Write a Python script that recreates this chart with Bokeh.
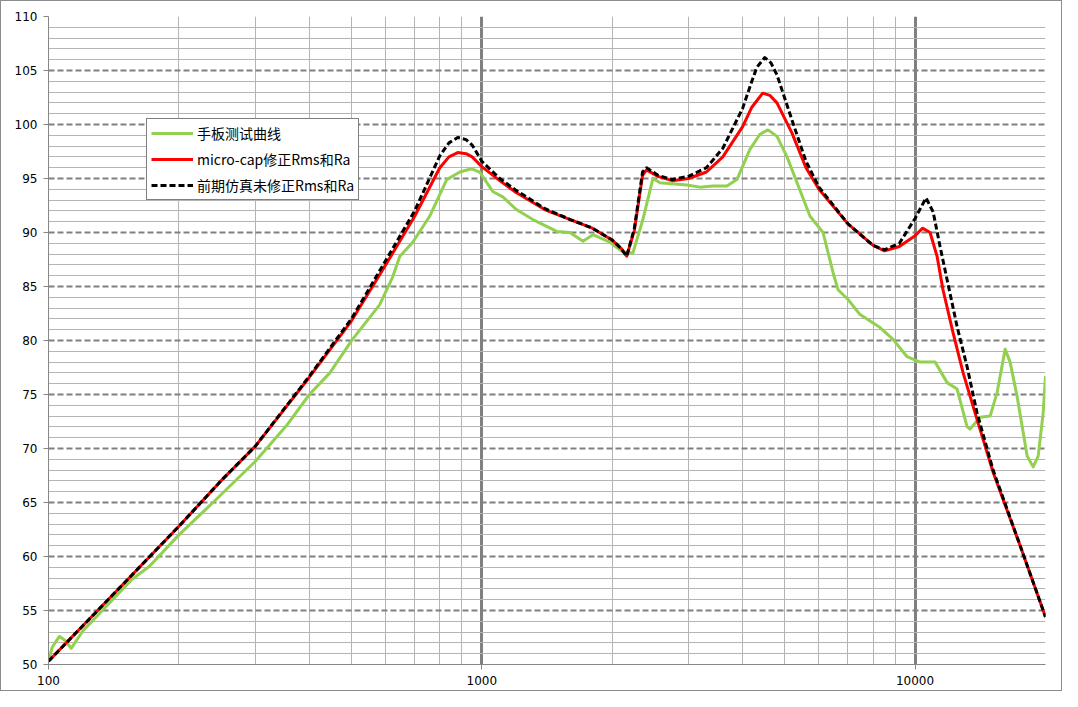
from bokeh.plotting import figure
from bokeh.models import Range1d, FixedTicker, Legend, LegendItem, CustomJSTickFormatter
from bokeh.embed import file_html
from bokeh.resources import INLINE

# ---- data ----
green_f = [100, 102, 106, 109.5, 112.8, 120, 136, 156, 171, 200, 244, 300, 354, 400, 446, 503,
           581, 623, 647, 693, 758, 830, 890, 948, 989, 1060, 1118, 1204, 1312, 1490, 1597,
           1712, 1805, 1975, 2117, 2232, 2354, 2483, 2577, 2974, 3187, 3416, 3679, 3880, 4158,
           4385, 4576, 4802, 5063, 5341, 5723, 6132, 6466, 6641, 7003, 7464, 8303, 8897, 9584,
           10268, 11123, 11857, 12503, 13187, 13397, 14130, 14903, 15468, 16141, 16572, 17202,
           18143, 18730, 19236, 19754, 20000]
green_db = [50.3, 51.6, 52.6, 52.2, 51.5, 53.1, 55.4, 57.9, 59.1, 62.0, 65.3, 68.8, 72.1, 75.0,
            77.0, 80.1, 83.3, 85.9, 87.8, 89.1, 91.5, 94.9, 95.6, 95.9, 95.6, 93.8, 93.3, 92.1,
            91.2, 90.1, 90.0, 89.2, 89.8, 89.1, 88.2, 88.1, 91.2, 95.0, 94.6, 94.4, 94.2, 94.3,
            94.3, 94.9, 97.7, 99.1, 99.5, 98.9, 97.0, 94.6, 91.5, 90.0, 86.3, 84.7, 83.8, 82.4,
            81.2, 80.1, 78.5, 78.0, 78.0, 76.1, 75.5, 72.0, 71.8, 72.9, 73.0, 75.2, 79.2, 78.0,
            74.8, 69.3, 68.3, 69.3, 73.3, 76.7]

red_f = [100, 150, 200, 250, 300, 400, 500, 600, 700, 800, 840, 880, 920, 950, 1000, 1100, 1200,
         1400, 1600, 1800, 2000, 2100, 2160, 2250, 2350, 2400, 2550, 2750, 3000, 3300, 3600,
         4000, 4200, 4450, 4620, 4800, 5200, 5600, 6000, 7000, 8000, 8500, 9200, 10000, 10400,
         10830, 11240, 11600, 12240, 12910, 13900, 15140, 17480, 20000]
red_db = [50.3, 57.6, 62.8, 67.0, 70.2, 76.6, 81.8, 87.0, 91.5, 96.0, 97.0, 97.4, 97.3, 97.0,
          96.1, 94.8, 93.7, 92.1, 91.2, 90.4, 89.3, 88.5, 87.8, 90.2, 95.3, 95.8, 95.2, 94.8,
          95.0, 95.6, 97.0, 99.8, 101.6, 102.9, 102.7, 102.0, 99.2, 96.0, 94.0, 90.8, 88.8,
          88.3, 88.7, 89.7, 90.4, 90.0, 87.8, 84.7, 80.7, 77.0, 72.7, 67.8, 61.0, 54.4]

black_f = [100, 150, 200, 250, 300, 400, 500, 600, 700, 800, 840, 880, 920, 950, 1000, 1100,
           1200, 1400, 1600, 1800, 2000, 2100, 2160, 2250, 2350, 2400, 2550, 2750, 3000, 3300,
           3600, 4000, 4200, 4315, 4500, 4650, 4800, 5200, 5600, 6000, 7000, 8000, 8500, 9200,
           10000, 10600, 11010, 11420, 11860, 12500, 13180, 13900, 15140, 17480, 20000]
black_db = [50.3, 57.6, 62.8, 67.0, 70.2, 76.7, 82.0, 87.4, 92.0, 97.1, 98.3, 98.8, 98.6, 98.1,
            96.6, 95.0, 93.9, 92.2, 91.2, 90.4, 89.3, 88.5, 87.8, 90.4, 95.6, 96.0, 95.3, 94.9,
            95.2, 96.0, 97.8, 101.5, 104.0, 105.3, 106.2, 105.7, 104.6, 100.4, 96.6, 94.2, 90.8,
            88.8, 88.4, 89.0, 91.3, 93.2, 91.9, 88.7, 85.6, 81.3, 77.6, 73.3, 68.0, 61.0, 54.4]

labels = ["手板测试曲线", "micro-cap修正Rms和Ra", "前期仿真未修正Rms和Ra"]
x_ticks = [100, 1000, 10000]
x_minor = [200, 300, 400, 500, 600, 700, 800, 900, 2000, 3000, 4000, 5000, 6000, 7000, 8000,
           9000, 20000]
y_ticks = list(range(50, 111, 5))
y_minor = [v for v in range(50, 111) if v % 5 != 0]

# ---- figure ----
p = figure(width=1062, height=691, x_axis_type="log", output_backend="svg",
           toolbar_location=None, x_range=Range1d(100, 20000), y_range=Range1d(50, 110),
           min_border_left=47, min_border_right=18, min_border_top=15, min_border_bottom=28)
p.styles = {"border": "1px solid #8c8c8c"}
p.outline_line_color = None
p.background_fill_color = "white"
p.border_fill_color = "white"

# axes
p.xaxis.ticker = FixedTicker(ticks=x_ticks, minor_ticks=[])
p.yaxis.ticker = FixedTicker(ticks=y_ticks, minor_ticks=[])
p.xaxis.formatter = CustomJSTickFormatter(code="return tick.toFixed(0);")
for ax in (p.xaxis[0], p.yaxis[0]):
    ax.axis_line_color = "#868686"
    ax.axis_line_width = 1
    ax.major_tick_line_color = "#868686"
    ax.major_tick_in = 0
    ax.major_tick_out = 5
    ax.minor_tick_line_color = None
    ax.major_label_text_font = "DejaVu Sans"
    ax.major_label_text_font_size = "12px"
    ax.major_label_text_color = "#000000"
p.yaxis.major_label_standoff = 6
p.xaxis.major_label_standoff = 6

# grids
p.xgrid.ticker = FixedTicker(ticks=[1000, 10000], minor_ticks=x_minor)
p.xgrid.grid_line_color = "#808080"
p.xgrid.grid_line_width = 3
p.xgrid.minor_grid_line_color = "#b4b4b4"
p.xgrid.minor_grid_line_width = 1
p.ygrid.ticker = FixedTicker(ticks=y_ticks[1:], minor_ticks=y_minor)
p.ygrid.grid_line_color = "#808080"
p.ygrid.grid_line_width = 2
p.ygrid.grid_line_dash = "6 3"
p.ygrid.minor_grid_line_color = "#b4b4b4"
p.ygrid.minor_grid_line_width = 1

# series
g = p.line(green_f, green_db, line_color="#92D050", line_width=3, line_join="round")
r = p.line(red_f, red_db, line_color="#FF0000", line_width=3, line_join="round")
b = p.line(black_f, black_db, line_color="#000000", line_width=3, line_dash="6 3",
           line_join="round")

legend = Legend(items=[LegendItem(label=labels[0], renderers=[g]),
                       LegendItem(label=labels[1], renderers=[r]),
                       LegendItem(label=labels[2], renderers=[b])],
                location=(98, 464), orientation="vertical")
legend.label_text_font = "Noto Sans CJK SC"
legend.label_text_font_size = "14px"
legend.label_text_color = "#000000"
legend.glyph_width = 42
legend.glyph_height = 20
legend.label_standoff = 4
legend.spacing = 6
legend.padding = 4
legend.margin = 0
legend.border_line_color = "#000000"
legend.border_line_width = 1
legend.background_fill_color = "white"
legend.background_fill_alpha = 1.0
p.add_layout(legend, "center")

open("out.html", "w").write(file_html(p, INLINE))
